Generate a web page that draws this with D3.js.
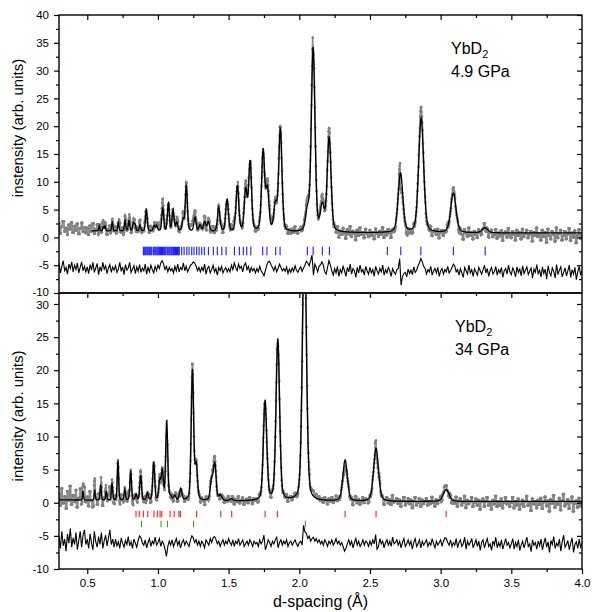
<!DOCTYPE html>
<html><head><meta charset="utf-8">
<script src="https://cdn.jsdelivr.net/npm/d3@7"></script>
<style>
body{margin:0;background:#fff}
svg{display:block}
text{font-family:"Liberation Sans",Arial,Helvetica,sans-serif;fill:#000}
</style>
</head><body>
<svg id="c" width="592" height="612"></svg>
<script>
// ---------------- data ----------------
const xTickValues = [0.5,1.0,1.5,2.0,2.5,3.0,3.5,4.0];
const xMinorValues = [0.75,1.25,1.75,2.25,2.75,3.25,3.75];
const yTicksTop = [-10,-5,0,5,10,15,20,25,30,35,40];
const yMinorTop = [-7.5,-2.5,2.5,7.5,12.5,17.5,22.5,27.5,32.5,37.5];
const yTicksBot = [-10,-5,0,5,10,15,20,25,30];
const yMinorBot = [-7.5,-2.5,2.5,7.5,12.5,17.5,22.5,27.5];

// top panel: YbD2 at 4.9 GPa — Bragg peaks (d in Å, height above background)
const topPeakPos = [0.585,0.614,0.626,0.677,0.720,0.767,0.795,0.826,0.838,0.873,
  0.918,0.972,0.990,1.034,1.074,1.107,1.133,1.178,1.201,1.262,
  1.298,1.330,1.357,1.430,1.489,1.562,1.621,1.652,1.744,1.774,
  1.831,1.866,2.058,2.098,2.163,2.211,2.716,2.862,3.090,3.313];
const topPeakHeight = [0.9,0.7,0.9,1.7,1.5,1.9,1.9,1.4,1.2,1.1,
  4.1,1.0,1.0,4.2,5.1,3.8,1.5,2.0,8.2,2.5,
  1.1,1.7,1.7,4.3,5.8,8.2,7.3,12.5,14.5,7.3,
  4.6,18.4,3.5,33.1,4.4,16.9,10.7,20.6,7.1,0.9];
const topResolution = 0.0145;          // FWHM / d
const topBgD = [0.3,0.6,1.0,1.5,2.0,3.0,4.0];
const topBgV = [1.3,1.15,1.1,0.95,0.85,0.8,0.8];
const topCalcStart = 0.53;

// bottom panel: YbD2 at 34 GPa
const botPeakPos = [0.470,0.553,0.595,0.635,0.675,0.717,0.765,0.807,0.845,0.878,
  0.925,0.970,1.013,1.031,1.062,1.090,1.119,1.161,1.244,1.271,
  1.380,1.402,1.442,1.520,1.758,1.848,2.036,2.324,2.543,3.039];
const botPeakHeight = [1.4,1.6,2.4,1.4,2.6,6.0,1.6,4.5,0.9,3.8,
  1.1,5.8,2.9,4.3,12.1,0.5,0.7,1.8,19.8,5.0,
  3.0,5.5,0.8,0.3,15.1,24.4,42.0,6.2,8.0,1.8];
const botResolution = 0.016;
const botBgD = [0.3,0.6,1.0,2.0,4.0];
const botBgV = [0.45,0.35,0.3,0.2,0.2];

// difference curves (obs - calc, shown offset), sampled from d = 0.30 every 0.01 Å
const diffStart = 0.30, diffStep = 0.01;
const topDiff = [
 -4.6,-6.4,-5.2,-4.2,-6.0,-5.4,-6.6,-4.8,-5.6,-4.4,-6.2,-5.0,-5.8,-4.6,-6.4,-5.4,-4.4,-6.0,-5.2,-6.2,
 -5.3,-6.5,-4.9,-5.9,-4.5,-6.3,-5.5,-4.7,-6.7,-5.3,-6.1,-4.5,-5.7,-5.1,-6.5,-5.5,-4.9,-6.3,-5.3,-5.9,
 -5.1,-6.3,-5.7,-4.5,-6.1,-5.3,-6.7,-4.9,-5.9,-5.5,-4.5,-6.3,-5.7,-5.1,-6.5,-5.3,-6.1,-4.9,-6.3,-5.5,
 -6.0,-4.8,-6.6,-5.4,-6.2,-5.0,-5.8,-6.4,-5.2,-6.0,-5.0,-5.6,-4.6,-4.2,-4.8,-5.8,-5.2,-6.2,-5.4,-6.0,
 -5.6,-6.4,-5.2,-6.0,-4.8,-6.2,-5.4,-5.8,-4.6,-6.0,-5.2,-6.2,-5.6,-5.0,-4.8,-4.4,-4.6,-5.2,-6.0,-5.4,
 -6.2,-5.4,-6.0,-4.8,-6.6,-5.6,-5.2,-6.4,-5.8,-5.0,-6.2,-5.6,-6.8,-5.4,-6.0,-5.2,-6.4,-5.8,-5.4,-6.2,
 -5.6,-6.2,-5.0,-5.8,-4.6,-5.4,-6.0,-4.8,-5.6,-5.2,-6.2,-5.0,-4.6,-5.8,-5.2,-6.4,-5.4,-6.0,-5.6,-6.4,
 -5.6,-6.2,-5.2,-6.0,-6.4,-6.9,-6.0,-5.0,-4.4,-4.3,-4.9,-5.4,-6.0,-5.2,-6.2,-5.6,-4.8,-5.4,-6.0,-5.6,
 -6.1,-5.3,-6.5,-5.7,-6.3,-5.5,-6.1,-5.1,-5.9,-6.3,-5.7,-5.3,-6.1,-5.5,-5.0,-4.3,-4.6,-5.1,-4.2,-3.2,
 -6.8,-4.8,-5.4,-6.2,-5.2,-4.9,-4.4,-5.0,-6.2,-6.6,-5.4,-4.2,-5.0,-6.0,-6.8,-5.6,-6.4,-5.2,-7.0,-5.8,
 -6.4,-5.2,-6.0,-7.0,-5.4,-6.2,-4.8,-6.6,-5.6,-6.0,-7.2,-5.4,-6.4,-5.0,-6.2,-5.8,-6.8,-5.2,-6.0,-6.6,
 -5.4,-6.4,-5.8,-7.0,-5.2,-6.0,-6.6,-5.6,-6.2,-5.0,-6.8,-5.8,-6.4,-5.4,-6.0,-7.0,-5.6,-6.2,-6.6,-5.8,
 -5.6,-3.8,-8.6,-7.0,-6.5,-6.3,-7.1,-5.7,-6.5,-5.9,-6.7,-5.3,-6.3,-5.9,-5.1,-4.6,-3.8,-4.4,-5.2,-5.6,
 -6.6,-5.8,-6.2,-5.2,-6.8,-6.0,-5.6,-6.4,-5.4,-7.0,-6.0,-5.6,-6.6,-5.8,-6.2,-5.2,-6.4,-6.0,-5.4,-4.8,
 -5.2,-6.2,-5.8,-6.8,-5.6,-6.4,-7.2,-5.4,-6.0,-6.6,-5.0,-6.4,-5.8,-7.0,-5.6,-6.2,-6.8,-5.4,-6.0,-6.6,
 -5.8,-5.0,-6.4,-5.6,-7.0,-6.0,-5.4,-6.6,-6.2,-5.2,-6.8,-5.8,-6.4,-5.4,-7.2,-6.0,-5.6,-6.6,-5.0,-6.2,
 -6.7,-5.5,-6.1,-7.1,-5.3,-6.3,-5.7,-6.9,-5.1,-6.5,-5.9,-5.3,-6.7,-6.1,-5.5,-7.3,-5.7,-6.3,-4.9,-6.5,
 -5.9,-7.1,-5.3,-6.5,-5.7,-7.5,-5.1,-6.3,-6.9,-5.5,-6.1,-7.3,-4.9,-6.7,-5.9,-5.3,-7.1,-6.3,-5.5,-6.9,
 -6.0,-5.0,-7.2,-5.8,-6.6,-5.4,-7.6,-6.2,-5.2,-6.8,-6.0];
const topDiffBase = -5.8;
const botDiff = [
 -5.1,-6.9,-4.3,-6.5,-5.5,-7.3,-4.7,-6.1,-3.9,-6.7,-5.3,-6.3,-4.5,-7.1,-5.7,-4.3,-6.7,-4.9,-4.1,-6.3,
 -5.5,-6.9,-4.7,-6.1,-7.1,-4.3,-5.9,-6.7,-5.1,-6.3,-4.5,-6.9,-5.7,-4.9,-6.5,-5.3,-4.1,-6.3,-5.5,-6.7,
 -5.5,-6.5,-5.9,-6.9,-5.3,-6.1,-6.7,-5.7,-6.3,-5.1,-6.5,-5.9,-6.9,-5.5,-6.1,-6.7,-5.7,-5.0,-5.3,-6.1,
 -6.4,-5.6,-6.8,-6.0,-5.4,-6.6,-5.8,-6.2,-5.2,-6.4,-6.0,-5.4,-6.6,-5.8,-6.2,-7.0,-8.1,-6.6,-5.8,-6.4,
 -5.6,-6.6,-6.0,-5.4,-6.4,-5.8,-6.8,-6.0,-5.6,-6.4,-5.8,-6.2,-6.6,-5.6,-5.0,-5.3,-6.0,-5.6,-6.4,-5.8,
 -6.6,-5.8,-6.2,-6.8,-5.6,-6.0,-6.4,-5.4,-6.0,-5.3,-5.1,-5.5,-6.2,-5.8,-6.6,-6.0,-5.6,-6.4,-5.8,-6.2,
 -5.4,-6.0,-6.4,-5.6,-6.6,-5.8,-6.2,-5.4,-6.4,-6.0,-5.6,-6.6,-6.2,-5.8,-6.4,-5.6,-6.0,-6.6,-5.8,-6.2,
 -6.0,-6.6,-5.6,-6.2,-5.8,-4.9,-7.1,-6.4,-5.6,-6.0,-6.6,-5.8,-6.2,-5.6,-5.2,-6.8,-6.0,-5.6,-6.4,-5.8,
 -6.2,-5.6,-6.6,-6.0,-5.8,-6.4,-6.0,-5.6,-6.2,-6.6,-6.0,-5.8,-6.4,-3.4,-4.4,-4.6,-5.4,-5.0,-5.8,-5.4,
 -5.2,-5.8,-5.4,-6.0,-5.6,-6.2,-5.8,-6.4,-5.6,-6.0,-6.6,-5.8,-6.2,-5.6,-6.4,-6.0,-5.4,-6.2,-5.8,-6.4,
 -6.0,-6.6,-7.3,-6.9,-6.2,-5.6,-6.4,-5.8,-6.8,-6.0,-5.4,-6.4,-5.8,-6.6,-6.2,-5.6,-6.4,-5.8,-6.0,-6.6,
 -5.8,-6.4,-5.6,-6.2,-4.8,-7.0,-6.6,-5.4,-6.2,-5.8,-6.8,-6.0,-5.6,-6.4,-5.8,-6.6,-5.2,-6.2,-6.0,-5.6,
 -6.4,-5.8,-6.8,-6.0,-5.4,-6.6,-6.2,-5.6,-6.4,-5.8,-7.0,-6.0,-5.4,-6.6,-6.2,-5.6,-6.8,-5.8,-6.4,-6.0,
 -5.6,-6.6,-6.0,-6.4,-5.4,-6.2,-6.8,-5.8,-6.4,-6.0,-5.6,-6.6,-5.8,-5.3,-5.4,-6.0,-6.4,-5.6,-6.6,-6.0,
 -6.4,-5.4,-6.8,-6.0,-5.6,-6.6,-6.2,-5.2,-7.0,-5.8,-6.4,-6.0,-5.4,-6.8,-6.2,-5.6,-6.6,-5.8,-7.2,-6.0,
 -5.6,-6.8,-6.0,-5.4,-6.6,-6.2,-7.2,-5.8,-6.4,-5.2,-6.8,-6.0,-6.6,-5.6,-7.0,-6.2,-5.4,-6.4,-6.0,-6.8,
 -6.2,-5.4,-7.0,-6.0,-6.6,-5.6,-7.2,-6.4,-5.8,-6.8,-6.0,-5.2,-6.6,-6.2,-7.4,-5.6,-6.4,-6.0,-7.0,-5.8,
 -6.5,-5.5,-7.1,-6.1,-5.3,-6.7,-5.9,-7.5,-5.7,-6.3,-5.1,-6.9,-6.1,-6.5,-5.5,-7.3,-5.9,-4.9,-6.7,-6.3,
 -5.7,-7.1,-6.1,-5.3,-7.5,-6.3,-5.9,-6.9,-5.5,-6.7,-6.1];
const botDiffBase = -6.0;

// reflection markers
const blueTicks = [0.897,0.903,0.910,0.916,0.923,0.929,0.936,0.942,0.949,0.956,
  0.967,0.973,0.980,0.986,0.993,0.999,1.006,1.012,1.019,1.025,1.032,1.038,1.045,1.051,1.057,
  1.066,1.072,1.079,1.085,1.092,1.098,1.105,1.111,1.118,1.124,1.131,1.138,1.144,1.151,
  1.168,1.185,1.204,1.220,1.239,1.255,1.274,1.291,1.310,1.328,1.357,1.392,1.420,1.452,1.482,
  1.541,1.576,1.604,1.628,1.657,1.741,1.771,1.833,1.864,2.057,2.098,2.163,2.213,
  2.623,2.718,2.860,3.090,3.315];
const redTicks = [0.845,0.868,0.897,0.928,0.972,0.996,1.015,1.027,1.086,1.115,1.148,1.159,
  1.274,1.444,1.522,1.758,1.845,2.324,2.543,3.039];
const greenTicks = [0.884,1.022,1.067,1.252,2.043];
const blueRow = [-1.7,-3.2], redRow = [-1.2,-2.2], greenRow = [-2.7,-3.7];

// ---------------- drawing ----------------
const svg = d3.select("#c");
const L = 59, R = 582, T = 15, MID = 293, B = 569;
const x = d3.scaleLinear().domain([0.3,4.0]).range([L,R]);
const yT = d3.scaleLinear().domain([-10,40]).range([MID,T]);
const yB = d3.scaleLinear().domain([-10,31.66]).range([B,MID]);

function pv(d, p, h, w){
  const u = (d-p)/w;
  const G = Math.exp(-4*Math.LN2*u*u);
  const Lz = 1/(1+4*u*u);
  return h*(0.3*Lz + 0.7*G);
}
const dGrid = d3.range(0.300, 4.0001, 0.0025);

function panel(cfg){
  const bg = d3.scaleLinear().domain(cfg.bgD).range(cfg.bgV).clamp(true);
  const calc = dGrid.map(d => {
    let s = bg(d);
    for(let i=0;i<cfg.pos.length;i++){
      const p = cfg.pos[i];
      if (Math.abs(d-p) < 0.6) s += pv(d,p,cfg.h[i],cfg.res*p);
    }
    return {d, v:s};
  });
  // observed = calculated + (difference - offset)
  const obs = calc.map(c => {
    const k = Math.min(cfg.diff.length-1, Math.max(0, Math.round((c.d-diffStart)/diffStep)));
    return {d:c.d, v:c.v + (cfg.diff[k]-cfg.diffBase)};
  });
  const diffPts = cfg.diff.map((v,i)=>({d: diffStart + i*diffStep, v}));

  const id = "clip"+cfg.name;
  svg.append("clipPath").attr("id",id).append("rect")
    .attr("x",L).attr("y",cfg.y.range()[1]).attr("width",R-L).attr("height",cfg.y.range()[0]-cfg.y.range()[1]);
  const g = svg.append("g").attr("clip-path",`url(#${id})`);
  const y = cfg.y;
  const line = d3.line().x(p=>x(p.d)).y(p=>y(p.v));

  // observed: gray points (joined faintly so the dense scatter reads as a band)
  g.append("path").datum(obs).attr("d",line).attr("fill","none")
    .attr("stroke","#8c8c8c").attr("stroke-width",1.6);
  g.append("g").selectAll("circle").data(obs).join("circle")
    .attr("cx",p=>x(p.d)).attr("cy",p=>y(p.v)).attr("r",1.35)
    .attr("fill","#808080");
  g.append("path").datum(calc.filter(c=>c.d>=cfg.calcStart))
    .attr("d",line).attr("fill","none").attr("stroke","#000").attr("stroke-width",1.3);
  g.append("path").datum(diffPts)
    .attr("d",line).attr("fill","none").attr("stroke","#000").attr("stroke-width",1.1);
  cfg.markers.forEach(m=>{
    g.append("g").selectAll("line").data(m.ticks).join("line")
      .attr("x1",d=>x(d)).attr("x2",d=>x(d))
      .attr("y1",y(m.row[0])).attr("y2",y(m.row[1]))
      .attr("stroke",m.color).attr("stroke-width",1.1);
  });

  // axes
  const yr = y.range();
  const fmt = d => String(d);
  svg.append("g").attr("class","ylab "+cfg.name).attr("transform",`translate(${L},0)`)
    .call(d3.axisLeft(y).tickValues(cfg.yTicks).tickSize(5).tickPadding(5).tickFormat(fmt).tickSizeOuter(0));
  svg.append("g").attr("transform",`translate(${L},0)`)
    .call(d3.axisLeft(y).tickValues(cfg.yMinor).tickSize(3).tickFormat("").tickSizeOuter(0));
  svg.append("g").attr("transform",`translate(${R},0)`)
    .call(d3.axisLeft(y).tickValues(cfg.yTicks.filter(v=>v>y.domain()[0])).tickSize(5).tickFormat("").tickSizeOuter(0));
  svg.append("g").attr("transform",`translate(${R},0)`)
    .call(d3.axisLeft(y).tickValues(cfg.yMinor).tickSize(3).tickFormat("").tickSizeOuter(0));
  // top edge ticks inward
  svg.append("g").attr("transform",`translate(0,${yr[1]})`)
    .call(d3.axisBottom(x).tickValues(xTickValues.filter(v=>v<4)).tickSize(5).tickFormat("").tickSizeOuter(0));
  svg.append("g").attr("transform",`translate(0,${yr[1]})`)
    .call(d3.axisBottom(x).tickValues(xMinorValues).tickSize(3).tickFormat("").tickSizeOuter(0));
  svg.append("rect").attr("x",L).attr("y",yr[1]).attr("width",R-L).attr("height",yr[0]-yr[1])
    .attr("fill","none").attr("stroke","#000").attr("stroke-width",1.4);

  // annotation
  const t = svg.append("text").attr("x",cfg.labelX).attr("y",cfg.labelY).attr("font-size",16);
  t.append("tspan").text("YbD");
  t.append("tspan").attr("font-size",11).attr("dy",4).text("2");
  svg.append("text").attr("x",cfg.labelX).attr("y",cfg.labelY+23).attr("font-size",16).text(cfg.pressure);

  svg.append("text").attr("transform",`translate(23,${cfg.titleY}) rotate(-90)`)
    .attr("text-anchor","middle").attr("font-size",15).text(cfg.title);
}

panel({name:"top", y:yT, pos:topPeakPos, h:topPeakHeight, res:topResolution,
  bgD:topBgD, bgV:topBgV, calcStart:topCalcStart, diff:topDiff, diffBase:topDiffBase,
  markers:[{ticks:blueTicks,row:blueRow,color:"#1a1aff"}],
  yTicks:yTicksTop, yMinor:yMinorTop, labelX:451, labelY:54, pressure:"4.9 GPa",
  title:"instensity (arb. units)", titleY:128});
panel({name:"bot", y:yB, pos:botPeakPos, h:botPeakHeight, res:botResolution,
  bgD:botBgD, bgV:botBgV, calcStart:0.3, diff:botDiff, diffBase:botDiffBase,
  markers:[{ticks:redTicks,row:redRow,color:"#ff1a1a"},{ticks:greenTicks,row:greenRow,color:"#5a8a3c"}],
  yTicks:yTicksBot, yMinor:yMinorBot, labelX:455, labelY:332, pressure:"34 GPa",
  title:"intensity (arb. units)", titleY:416});

// bottom x axis with labels
svg.append("g").attr("transform",`translate(0,${B})`)
  .call(d3.axisBottom(x).tickValues(xTickValues).tickSize(5).tickPadding(5).tickFormat(d=>d.toFixed(1)).tickSizeOuter(0));
svg.append("g").attr("transform",`translate(0,${B})`)
  .call(d3.axisBottom(x).tickValues(xMinorValues).tickSize(3).tickFormat("").tickSizeOuter(0));
svg.append("text").attr("x",(L+R)/2).attr("y",607).attr("text-anchor","middle").attr("font-size",16).text("d-spacing (Å)");

svg.selectAll(".domain").remove();
svg.selectAll(".tick line").attr("stroke","#000").attr("stroke-width",1.2);
svg.selectAll(".tick text").attr("font-size",11.5).attr("fill","#000")
  .style("font-family",'"Liberation Sans",Arial,sans-serif');
// keep the adjoining "-10" / "30" labels at the panel junction apart
svg.selectAll(".ylab.top .tick text").filter(d=>d===-10).attr("dy","0.2em");
svg.selectAll(".ylab.bot .tick text").filter(d=>d===30).attr("dy","0.42em");
</script>
</body></html>
